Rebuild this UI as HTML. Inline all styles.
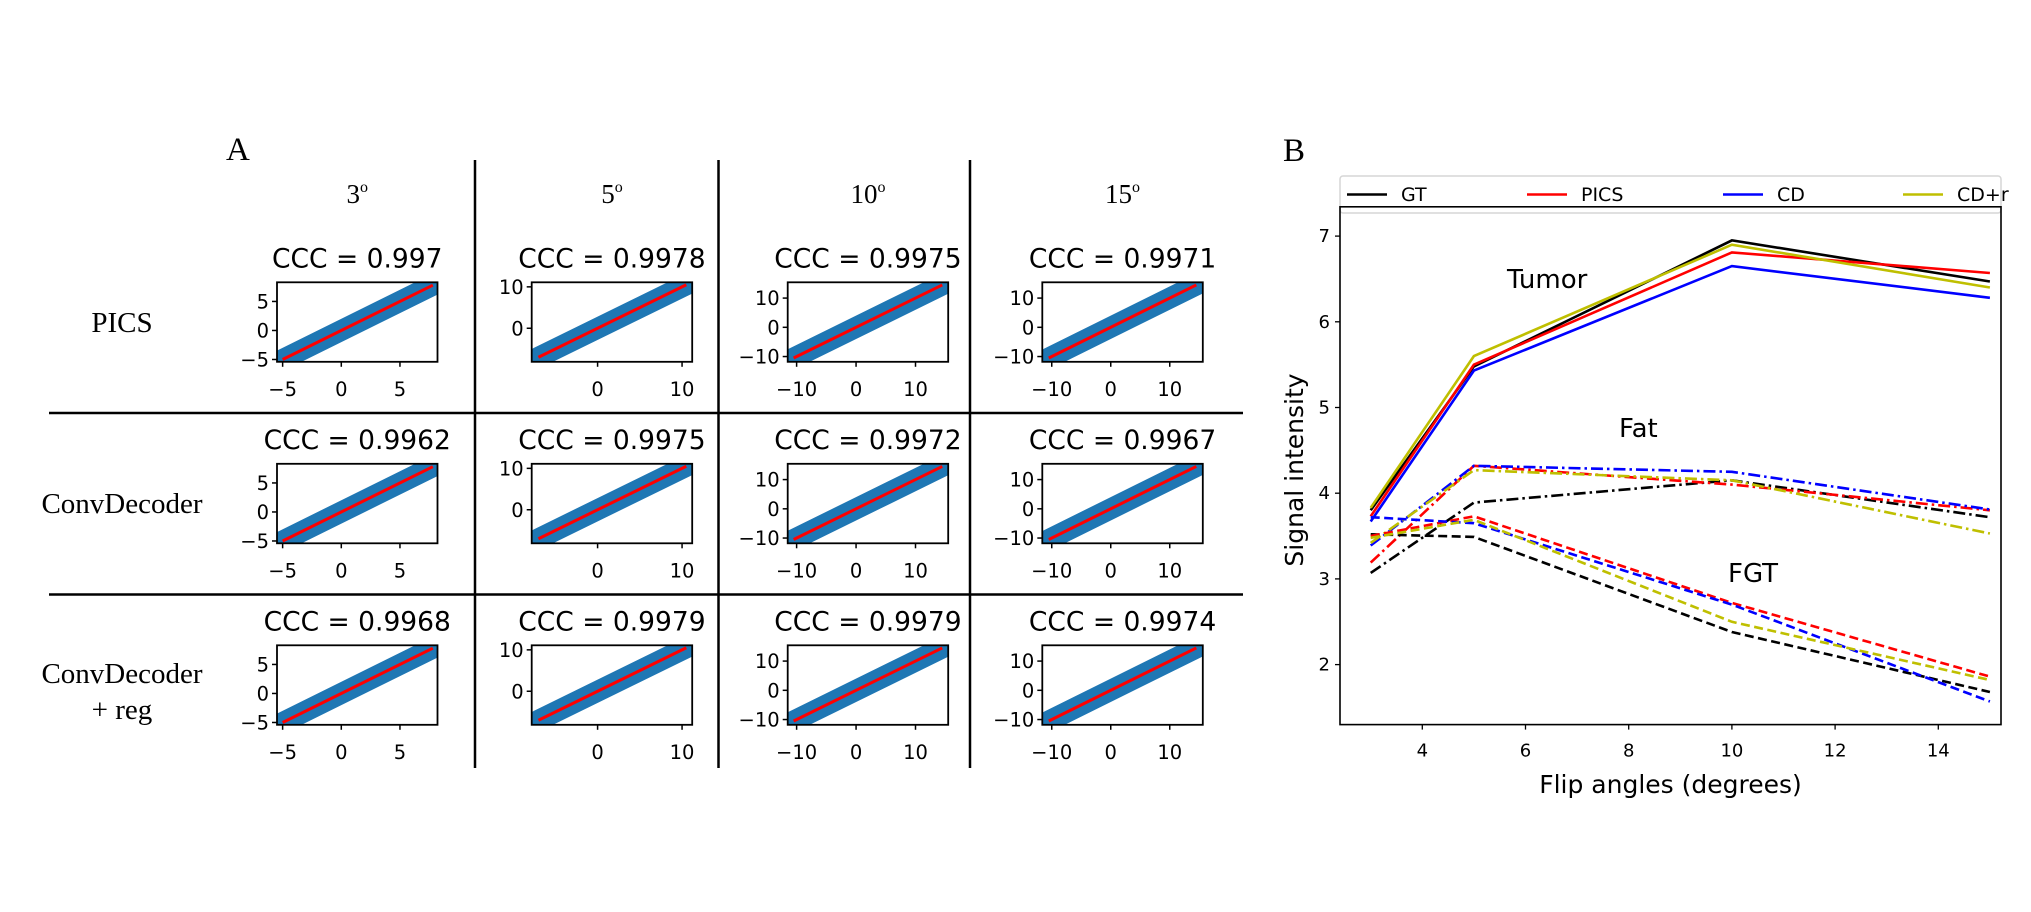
<!DOCTYPE html>
<html><head><meta charset="utf-8"><style>
html,body{margin:0;padding:0;background:#fff;}
svg{display:block;}
.serif{font-family:"Liberation Serif",serif;}
.sans{font-family:"DejaVu Sans","Liberation Sans",sans-serif;}
</style></head><body>
<svg id="fig" width="2031" height="912" viewBox="0 0 2031 912" xmlns="http://www.w3.org/2000/svg">
  <text x="226" y="160" class="serif" font-size="33">A</text>
  <text x="1283" y="161" class="serif" font-size="33">B</text>
  <g id="gridlines">
    <line x1="49" y1="413" x2="1243" y2="413" stroke="#000" stroke-width="2.5"/>
    <line x1="49" y1="594.5" x2="1243" y2="594.5" stroke="#000" stroke-width="2.5"/>
    <line x1="475" y1="160" x2="475" y2="768" stroke="#000" stroke-width="2.5"/>
    <line x1="718.5" y1="160" x2="718.5" y2="768" stroke="#000" stroke-width="2.5"/>
    <line x1="970" y1="160" x2="970" y2="768" stroke="#000" stroke-width="2.5"/>
  </g>
  <g id="panelA"></g>
  <g id="panelB"></g>
</svg>
<script>
// ---------- Panel A data ----------
const colHeaders = ['3', '5', '10', '15'];
const rowLabels = [['PICS'], ['ConvDecoder'], ['ConvDecoder', '+ reg']];
const cccRow1 = [0.997, 0.9978, 0.9975, 0.9971];
const cccRow2 = [0.9962, 0.9975, 0.9972, 0.9967];
const cccRow3 = [0.9968, 0.9979, 0.9979, 0.9974];
const colXMin = [-5.48, -7.8, -11.5, -11.6];
const colXMax = [8.2, 11.2, 15.5, 15.6];
const colYMin = [-5.4, -8.1, -11.8, -11.8];
const colYMax = [8.3, 11.1, 15.4, 15.4];
const colTicksX = [[-5, 0, 5], [0, 10], [-10, 0, 10], [-10, 0, 10]];
const colTicksY = [[-5, 0, 5], [0, 10], [-10, 0, 10], [-10, 0, 10]];
const fitStart = [-5, -7, -10.5, -10.5];
const fitEnd = [7.8, 10.5, 14.5, 14.5];

// ---------- Panel B data ----------
const flipAngles = [3, 5, 10, 15];
const xTicksB = [4, 6, 8, 10, 12, 14];
const yTicksB = [2, 3, 4, 5, 6, 7];
const seriesNames = ['GT', 'PICS', 'CD', 'CD+r'];
const tumorGT = [3.80, 5.48, 6.95, 6.47];
const tumorPICS = [3.73, 5.50, 6.81, 6.57];
const tumorCD = [3.67, 5.43, 6.65, 6.28];
const tumorCDr = [3.83, 5.60, 6.90, 6.40];
const fatGT = [3.07, 3.89, 4.15, 3.72];
const fatPICS = [3.19, 4.32, 4.10, 3.80];
const fatCD = [3.39, 4.32, 4.25, 3.81];
const fatCDr = [3.42, 4.27, 4.15, 3.53];
const fgtGT = [3.52, 3.49, 2.38, 1.68];
const fgtPICS = [3.50, 3.73, 2.72, 1.86];
const fgtCD = [3.72, 3.65, 2.70, 1.57];
const fgtCDr = [3.48, 3.69, 2.50, 1.82];

const NS = 'http://www.w3.org/2000/svg';
function mk(tag, attrs, parent) {
  const e = document.createElementNS(NS, tag);
  for (const k in attrs) e.setAttribute(k, attrs[k]);
  parent.appendChild(e);
  return e;
}
function fmt(v) { return v < 0 ? '\u2212' + Math.abs(v) : String(v); }

// ---------- Panel A ----------
const pA = document.getElementById('panelA');
const boxLeft = [277, 531.7, 787.7, 1042.3];
const boxTop = [282.3, 463.8, 645.3];
const BW = 160.5, BH = 79.5;
const cccRows = [cccRow1, cccRow2, cccRow3];

colHeaders.forEach((h, c) => {
  const t = mk('text', {x: boxLeft[c] + BW / 2, y: 203, 'text-anchor': 'middle', class: 'serif', 'font-size': 27}, pA);
  
  
  t.textContent = h;
  const s = mk('tspan', {'font-size': 16, dy: -11}, t);
  s.textContent = 'o';
});

const rowLabelY = [[332], [513], [683, 719]];
rowLabels.forEach((lines, r) => {
  lines.forEach((ln, i) => {
    const t = mk('text', {x: 122, y: rowLabelY[r][i], 'text-anchor': 'middle', class: 'serif', 'font-size': 29}, pA);
    
    
    t.textContent = ln;
  });
});

for (let r = 0; r < 3; r++) {
  for (let c = 0; c < 4; c++) {
    const L = boxLeft[c], T = boxTop[r];
    const sx = v => L + (v - colXMin[c]) / (colXMax[c] - colXMin[c]) * BW;
    const sy = v => T + BH - (v - colYMin[c]) / (colYMax[c] - colYMin[c]) * BH;
    const g = mk('g', {}, pA);
    
    
    const title = mk('text', {x: L + BW / 2, y: T - 15, 'text-anchor': 'middle', class: 'sans', 'font-size': 26.5}, g);
    
    
    title.textContent = 'CCC = ' + cccRows[r][c];
    const cid = 'clip' + r + c;
    const cp = mk('clipPath', {id: cid}, g);
    mk('rect', {x: L, y: T, width: BW, height: BH}, cp);
    const band = mk('line', {x1: sx(fitStart[c]), y1: sy(fitStart[c]), x2: sx(fitEnd[c]), y2: sy(fitEnd[c]), stroke: '#1f77b4', 'stroke-width': 21, 'stroke-linecap': 'round', 'clip-path': 'url(#' + cid + ')'}, g);
    
    
    const fit = mk('line', {x1: sx(fitStart[c]), y1: sy(fitStart[c]), x2: sx(fitEnd[c]), y2: sy(fitEnd[c]), stroke: '#ff0000', 'stroke-width': 3}, g);
    
    
    const box = mk('rect', {x: L, y: T, width: BW, height: BH, fill: 'none', stroke: '#000', 'stroke-width': 1.8}, g);
    
    
    colTicksX[c].forEach(v => {
      mk('line', {x1: sx(v), y1: T + BH, x2: sx(v), y2: T + BH + 5, stroke: '#000', 'stroke-width': 1.5}, g);
      const t = mk('text', {x: sx(v), y: T + BH + 34, 'text-anchor': 'middle', class: 'sans', 'font-size': 19.5}, g);
      
      
      t.textContent = fmt(v);
    });
    colTicksY[c].forEach(v => {
      mk('line', {x1: L - 5, y1: sy(v), x2: L, y2: sy(v), stroke: '#000', 'stroke-width': 1.5}, g);
      const t = mk('text', {x: L - 8, y: sy(v) + 7, 'text-anchor': 'end', class: 'sans', 'font-size': 19.5}, g);
      
      
      t.textContent = fmt(v);
    });
  }
}

// ---------- Panel B ----------
const pB = document.getElementById('panelB');
const AX = {l: 1340, r: 2001, t: 206.8, b: 724.6};
const xs = v => 1422.3 + (v - 4) * 51.6;
const ys = v => 664.6 - (v - 2) * 85.7;
const colors = ['#000000', '#ff0000', '#0000ff', '#bfbf00'];

const legend = mk('rect', {x: AX.l, y: 176, width: AX.r - AX.l, height: 37, rx: 3, fill: '#fff', stroke: '#d6d6d6', 'stroke-width': 1.5}, pB);


const legX = [1347, 1527, 1723, 1903];
seriesNames.forEach((n, i) => {
  const g = mk('g', {}, pB);
  
  
  mk('line', {x1: legX[i], y1: 194.5, x2: legX[i] + 40, y2: 194.5, stroke: colors[i], 'stroke-width': 2.6}, g);
  const t = mk('text', {x: legX[i] + 54, y: 201, class: 'sans', 'font-size': 19}, g);
  t.textContent = n;
});

const frame = mk('rect', {x: AX.l, y: AX.t, width: AX.r - AX.l, height: AX.b - AX.t, fill: 'none', stroke: '#000', 'stroke-width': 1.6}, pB);



xTicksB.forEach(v => {
  mk('line', {x1: xs(v), y1: AX.b, x2: xs(v), y2: AX.b + 5, stroke: '#000', 'stroke-width': 1.3}, pB);
  const t = mk('text', {x: xs(v), y: AX.b + 32, 'text-anchor': 'middle', class: 'sans', 'font-size': 18}, pB);
  
  
  t.textContent = v;
});
yTicksB.forEach(v => {
  mk('line', {x1: AX.l - 5, y1: ys(v), x2: AX.l, y2: ys(v), stroke: '#000', 'stroke-width': 1.3}, pB);
  const t = mk('text', {x: AX.l - 10, y: ys(v) + 6, 'text-anchor': 'end', class: 'sans', 'font-size': 18}, pB);
  
  
  t.textContent = v;
});
const xl = mk('text', {x: (AX.l + AX.r) / 2, y: 793, 'text-anchor': 'middle', class: 'sans', 'font-size': 25}, pB);


xl.textContent = 'Flip angles (degrees)';
const yl = mk('text', {x: 0, y: 0, 'text-anchor': 'middle', class: 'sans', 'font-size': 25, transform: 'translate(1303,470) rotate(-90)'}, pB);


yl.textContent = 'Signal intensity';

const groups = [
  {name: 'tumor', dash: null, data: [tumorGT, tumorPICS, tumorCD, tumorCDr]},
  {name: 'fat', dash: '12,4,2.5,4', data: [fatGT, fatPICS, fatCD, fatCDr]},
  {name: 'fgt', dash: '9,4.5', data: [fgtGT, fgtPICS, fgtCD, fgtCDr]}
];
groups.forEach(gr => {
  gr.data.forEach((vals, i) => {
    const pts = flipAngles.map((a, k) => xs(a).toFixed(1) + ',' + ys(vals[k]).toFixed(1)).join(' ');
    const attrs = {points: pts, fill: 'none', stroke: colors[i], 'stroke-width': 2.6, 'stroke-linejoin': 'miter'};
    if (gr.dash) attrs['stroke-dasharray'] = gr.dash;
    const pl = mk('polyline', attrs, pB);
    
    
  });
});

const ann = [['Tumor', 1507, 288], ['Fat', 1619, 437], ['FGT', 1728, 582]];
ann.forEach(a => {
  const t = mk('text', {x: a[1], y: a[2], class: 'sans', 'font-size': 26}, pB);
  
  
  t.textContent = a[0];
});
</script>
</body></html>
